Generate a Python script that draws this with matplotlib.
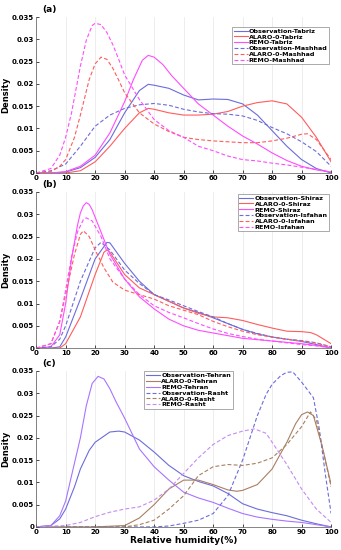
import matplotlib
matplotlib.use("Agg")
import matplotlib.pyplot as plt

# -------------------------------
# Panel (a): Tabriz / Mashhad
# -------------------------------
obs_tabriz_x = [0, 5, 10, 15, 20, 25, 30, 35, 38, 40, 45, 50, 55, 60, 65, 70, 75, 80, 85, 90, 95, 100]
obs_tabriz_y = [0, 0, 0.0002, 0.0012, 0.0035, 0.0075, 0.0135, 0.0185, 0.0199, 0.0197, 0.019, 0.0175,
                0.0164, 0.0166, 0.0165, 0.0155, 0.013, 0.0095, 0.006, 0.003, 0.001, 0.0]
alaro_tabriz_x = [0, 10, 15, 20, 25, 30, 35, 38, 40, 45, 50, 55, 60, 65, 70, 75, 80, 85, 90, 95, 100]
alaro_tabriz_y = [0, 0, 0.0005, 0.0025, 0.006, 0.01, 0.0135, 0.0145, 0.0143, 0.0135, 0.013, 0.013,
                  0.0132, 0.0138, 0.015, 0.0158, 0.0162, 0.0155, 0.0125, 0.008, 0.0025]
remo_tabriz_x = [0, 5, 10, 15, 20, 25, 30, 33, 36, 38, 40, 43, 46, 50, 55, 60, 65, 70, 75, 80, 85, 90, 95, 100]
remo_tabriz_y = [0, 0, 0.0003, 0.0015, 0.004, 0.009, 0.016, 0.021, 0.0253, 0.0264, 0.026, 0.0243, 0.0218,
                 0.019, 0.0155, 0.013, 0.0105, 0.0083, 0.0065, 0.0045, 0.0028, 0.0015, 0.0007, 0.0002]
obs_mashhad_x = [0, 5, 10, 15, 20, 25, 30, 35, 40, 45, 50, 55, 60, 65, 70, 75, 80, 85, 90, 95, 100]
obs_mashhad_y = [0, 0.0005, 0.002, 0.006, 0.0105, 0.013, 0.0145, 0.0153, 0.0156, 0.0152, 0.0143,
                 0.0137, 0.0133, 0.0132, 0.0128, 0.0118, 0.0102, 0.0088, 0.007, 0.0048, 0.0015]
alaro_mashhad_x = [0, 5, 8, 10, 13, 15, 18, 20, 22, 24, 26, 28, 30, 35, 40, 45, 50, 55, 60, 65, 70, 75,
                   80, 85, 90, 92, 95, 100]
alaro_mashhad_y = [0, 0.0003, 0.0015, 0.003, 0.008, 0.013, 0.021, 0.0245, 0.026, 0.0255, 0.0235,
                   0.0208, 0.018, 0.0135, 0.011, 0.0093, 0.008, 0.0075, 0.0072, 0.007, 0.0068, 0.0068,
                   0.0072, 0.0078, 0.0087, 0.0088, 0.0075, 0.003]
remo_mashhad_x = [0, 5, 8, 10, 12, 15, 17, 19, 20, 22, 24, 26, 28, 30, 35, 40, 45, 50, 55, 60, 65, 70,
                  75, 80, 85, 90, 95, 100]
remo_mashhad_y = [0, 0.001, 0.004, 0.008, 0.0135, 0.024, 0.0298, 0.0331, 0.0336, 0.0333, 0.0315,
                  0.0288, 0.0255, 0.022, 0.0165, 0.012, 0.0095, 0.008, 0.006, 0.005, 0.0038, 0.003,
                  0.0027, 0.0022, 0.0018, 0.0013, 0.0008, 0.0002]

# -------------------------------
# Panel (b): Shiraz / Isfahan
# -------------------------------
obs_shiraz_x = [0, 5, 8, 10, 15, 20, 24, 25, 30, 35, 40, 45, 50, 55, 60, 65, 70, 75, 80, 85, 90, 95, 100]
obs_shiraz_y = [0, 0, 0.0003, 0.0025, 0.011, 0.02, 0.0237, 0.0236, 0.019, 0.015, 0.012, 0.0105, 0.009,
                0.008, 0.0068, 0.0055, 0.0042, 0.0032, 0.0025, 0.002, 0.0015, 0.0008, 0.0]
alaro_shiraz_x = [0, 8, 10, 15, 20, 23, 24, 25, 30, 35, 40, 45, 50, 55, 60, 65, 70, 75, 80, 85, 90, 93, 95, 100]
alaro_shiraz_y = [0, 0, 0.001, 0.007, 0.0165, 0.0215, 0.022, 0.0215, 0.0165, 0.0135, 0.012, 0.0105,
                  0.009, 0.0078, 0.007, 0.0068, 0.0062, 0.0053, 0.0045, 0.0038, 0.0037, 0.0035, 0.003, 0.001]
remo_shiraz_x = [0, 5, 8, 10, 12, 14, 15, 16, 17, 18, 19, 22, 25, 30, 35, 40, 45, 50, 55, 60, 65, 70,
                 75, 80, 85, 90, 95, 100]
remo_shiraz_y = [0, 0.0003, 0.003, 0.01, 0.02, 0.0275, 0.0303, 0.0319, 0.0326, 0.0322, 0.031, 0.026,
                 0.021, 0.0155, 0.0115, 0.0088, 0.0065, 0.005, 0.004, 0.0034, 0.0028, 0.0022, 0.0019,
                 0.0016, 0.0013, 0.001, 0.0006, 0.0001]
obs_isfahan_x = [0, 5, 8, 10, 15, 20, 22, 25, 30, 35, 40, 45, 50, 55, 60, 65, 70, 75, 80, 85, 90, 95, 100]
obs_isfahan_y = [0, 0.0003, 0.002, 0.005, 0.015, 0.0225, 0.0237, 0.022, 0.0175, 0.0145, 0.012, 0.0108,
                 0.0095, 0.0082, 0.007, 0.0055, 0.0042, 0.0033, 0.0025, 0.002, 0.0017, 0.0012, 0.0003]
alaro_isfahan_x = [0, 5, 8, 10, 13, 15, 16, 18, 20, 23, 26, 30, 35, 40, 45, 50, 55, 60, 65, 70, 75, 80,
                   85, 90, 95, 100]
alaro_isfahan_y = [0, 0.001, 0.006, 0.012, 0.021, 0.0255, 0.0263, 0.025, 0.022, 0.018, 0.0148, 0.013,
                   0.012, 0.011, 0.0095, 0.0085, 0.0075, 0.006, 0.0048, 0.0038, 0.003, 0.0025, 0.002,
                   0.0016, 0.0011, 0.0003]
remo_isfahan_x = [0, 5, 8, 10, 12, 14, 16, 17, 19, 22, 25, 30, 35, 40, 45, 50, 55, 60, 65, 70, 75, 80,
                  85, 90, 95, 100]
remo_isfahan_y = [0, 0.001, 0.006, 0.013, 0.0205, 0.026, 0.0288, 0.0292, 0.0285, 0.025, 0.02, 0.0155,
                  0.012, 0.0095, 0.008, 0.0068, 0.0055, 0.0043, 0.0033, 0.0026, 0.002, 0.0016, 0.0012,
                  0.0008, 0.0005, 0.0001]

# -------------------------------
# Panel (c): Tehran / Rasht
# -------------------------------
obs_tehran_x = [0, 5, 8, 10, 13, 15, 18, 20, 25, 28, 30, 35, 40, 45, 50, 55, 60, 65, 70, 75, 80, 85, 90, 95, 100]
obs_tehran_y = [0, 0.0003, 0.0018, 0.004, 0.009, 0.013, 0.0172, 0.019, 0.0213, 0.0215, 0.0213, 0.0195,
                0.0168, 0.0138, 0.0115, 0.0102, 0.0092, 0.0075, 0.0052, 0.004, 0.0032, 0.0025, 0.0015,
                0.0007, 0.0]
alaro_tehran_x = [0, 20, 30, 35, 40, 45, 50, 55, 60, 65, 68, 70, 75, 80, 85, 88, 90, 92, 94, 97, 100]
alaro_tehran_y = [0, 0, 0.0003, 0.002, 0.005, 0.0085, 0.0105, 0.0105, 0.0095, 0.0083, 0.008, 0.0082,
                  0.0095, 0.013, 0.019, 0.0232, 0.0252, 0.0258, 0.025, 0.018, 0.0095]
remo_tehran_x = [0, 5, 8, 10, 12, 15, 17, 19, 21, 23, 25, 27, 30, 35, 40, 45, 50, 55, 60, 65, 70, 75,
                 80, 85, 90, 95, 100]
remo_tehran_y = [0, 0.0003, 0.0025, 0.0058, 0.0115, 0.02, 0.0272, 0.0322, 0.0338, 0.0332, 0.031,
                 0.0282, 0.0244, 0.0175, 0.0135, 0.0105, 0.0078, 0.0065, 0.0055, 0.0042, 0.003, 0.0022,
                 0.0017, 0.0013, 0.001, 0.0005, 0.0]
obs_rasht_x = [0, 40, 45, 50, 55, 60, 65, 70, 75, 78, 80, 83, 85, 87, 90, 94, 96, 98, 100]
obs_rasht_y = [0, 0, 0.0002, 0.0008, 0.0015, 0.003, 0.007, 0.015, 0.025, 0.0298, 0.032, 0.034, 0.0347,
               0.0348, 0.0325, 0.029, 0.022, 0.012, 0.003]
alaro_rasht_x = [0, 30, 35, 40, 45, 50, 55, 60, 65, 70, 75, 80, 85, 90, 93, 95, 98, 100]
alaro_rasht_y = [0, 0, 0.0005, 0.0015, 0.004, 0.007, 0.0115, 0.0135, 0.014, 0.0138, 0.0143, 0.0155,
                 0.0185, 0.0225, 0.0258, 0.024, 0.015, 0.009]
remo_rasht_x = [0, 10, 15, 20, 25, 30, 35, 40, 45, 50, 55, 60, 65, 70, 74, 78, 80, 85, 90, 95, 100]
remo_rasht_y = [0, 0.0003, 0.001, 0.0023, 0.0033, 0.004, 0.0045, 0.006, 0.0085, 0.012, 0.0155, 0.0185,
                0.0205, 0.0215, 0.022, 0.021, 0.019, 0.014, 0.0085, 0.004, 0.001]

yticks = [0, 0.005, 0.01, 0.015, 0.02, 0.025, 0.03, 0.035]
ytick_labels = ['0', '0.005', '0.01', '0.015', '0.02', '0.025', '0.03', '0.035']
xticks = list(range(0, 101, 10))

BLUE = '#6c6cdc'
RED = '#ff5c5c'
MAGENTA = '#ff4cff'
BROWN = '#a97f62'
PURPLE = '#a874ff'
LILAC = '#c48cf0'
DASH = (0, (3.5, 2))

fig = plt.figure(figsize=(3.41, 5.5), dpi=100)
L, W = 0.106, 0.865
ax_a = fig.add_axes([L, 0.6855, W, 0.2835])
ax_b = fig.add_axes([L, 0.367, W, 0.284])
ax_c = fig.add_axes([L, 0.042, W, 0.2835])

panels = [
    (ax_a, '(a)', [
        (obs_tabriz_x, obs_tabriz_y, BLUE, '-', 'Observation-Tabriz'),
        (alaro_tabriz_x, alaro_tabriz_y, RED, '-', 'ALARO-0-Tabriz'),
        (remo_tabriz_x, remo_tabriz_y, MAGENTA, '-', 'REMO-Tabriz'),
        (obs_mashhad_x, obs_mashhad_y, BLUE, DASH, 'Observation-Mashhad'),
        (alaro_mashhad_x, alaro_mashhad_y, RED, DASH, 'ALARO-0-Mashhad'),
        (remo_mashhad_x, remo_mashhad_y, MAGENTA, DASH, 'REMO-Mashhad'),
    ], dict(loc='upper right', bbox_to_anchor=(1.0, 0.95))),
    (ax_b, '(b)', [
        (obs_shiraz_x, obs_shiraz_y, BLUE, '-', 'Observation-Shiraz'),
        (alaro_shiraz_x, alaro_shiraz_y, RED, '-', 'ALARO-0-Shiraz'),
        (remo_shiraz_x, remo_shiraz_y, MAGENTA, '-', 'REMO-Shiraz'),
        (obs_isfahan_x, obs_isfahan_y, BLUE, DASH, 'Observation-Isfahan'),
        (alaro_isfahan_x, alaro_isfahan_y, RED, DASH, 'ALARO-0-Isfahan'),
        (remo_isfahan_x, remo_isfahan_y, MAGENTA, DASH, 'REMO-Isfahan'),
    ], dict(loc='upper right', bbox_to_anchor=(1.0, 1.0))),
    (ax_c, '(c)', [
        (obs_tehran_x, obs_tehran_y, BLUE, '-', 'Observation-Tehran'),
        (alaro_tehran_x, alaro_tehran_y, BROWN, '-', 'ALARO-0-Tehran'),
        (remo_tehran_x, remo_tehran_y, PURPLE, '-', 'REMO-Tehran'),
        (obs_rasht_x, obs_rasht_y, BLUE, DASH, 'Observation-Rasht'),
        (alaro_rasht_x, alaro_rasht_y, BROWN, DASH, 'ALARO-0-Rasht'),
        (remo_rasht_x, remo_rasht_y, LILAC, DASH, 'REMO-Rasht'),
    ], dict(loc='upper left', bbox_to_anchor=(0.36, 1.01))),
]

for ax, tag, series, leg_kw in panels:
    for xs, ys, col, ls, lab in series:
        ax.plot(xs, ys, color=col, linestyle=ls, linewidth=0.8, label=lab)
    ax.set_xlim(0, 100)
    ax.set_ylim(0, 0.035)
    ax.set_xticks(xticks)
    ax.set_yticks(yticks)
    ax.set_yticklabels(ytick_labels)
    ax.tick_params(direction='in', length=2, width=0.5, labelsize=5, pad=1.5)
    for lbl in ax.get_xticklabels() + ax.get_yticklabels():
        lbl.set_fontweight('bold')
    ax.grid(axis='x', color='#e6e6e6', linewidth=0.5)
    ax.set_axisbelow(True)
    for s in ['top', 'right']:
        ax.spines[s].set_visible(False)
    for s in ['left', 'bottom']:
        ax.spines[s].set_linewidth(0.5)
        ax.spines[s].set_color('#555555')
    ax.set_ylabel('Density', fontsize=6, fontweight='bold', labelpad=1)
    ax.text(0.02, 1.02, tag, transform=ax.transAxes, fontsize=6.5,
            fontweight='bold', ha='left', va='bottom')
    leg = ax.legend(fontsize=4.6, handlelength=2.2, handletextpad=0.2,
                    labelspacing=0.05, borderpad=0.25, borderaxespad=0.3,
                    fancybox=False, framealpha=1, **leg_kw)
    leg.get_frame().set_linewidth(0.5)
    leg.get_frame().set_edgecolor('#888888')
    for t in leg.get_texts():
        t.set_fontweight('bold')

ax_c.set_xlabel('Relative humidity(%)', fontsize=6.5, fontweight='bold', labelpad=1)

fig.savefig('out.png', dpi=100)
